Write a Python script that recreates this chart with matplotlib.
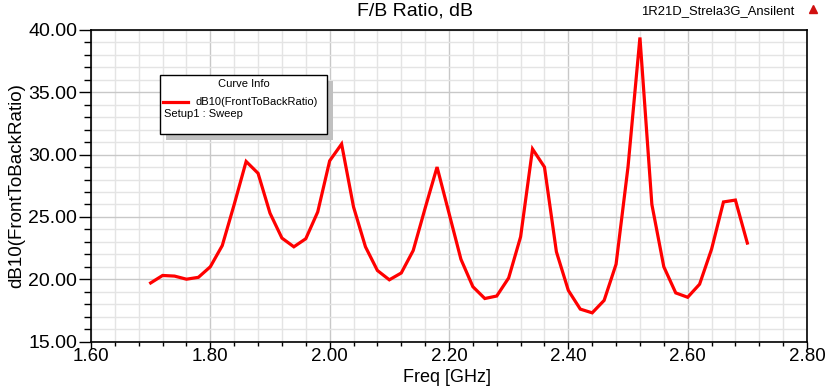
import matplotlib
matplotlib.use("Agg")
import matplotlib.pyplot as plt
from matplotlib.ticker import MultipleLocator, FormatStrFormatter
from matplotlib.patches import Rectangle
from matplotlib.lines import Line2D

plt.rcParams['font.family'] = ['Liberation Sans', 'DejaVu Sans']

freq_ghz = [1.70, 1.72, 1.74, 1.76, 1.78, 1.80, 1.82, 1.84, 1.86, 1.88,
            1.90, 1.92, 1.94, 1.96, 1.98, 2.00, 2.02, 2.04, 2.06, 2.08,
            2.10, 2.12, 2.14, 2.16, 2.18, 2.20, 2.22, 2.24, 2.26, 2.28,
            2.30, 2.32, 2.34, 2.36, 2.38, 2.40, 2.42, 2.44, 2.46, 2.48,
            2.50, 2.52, 2.54, 2.56, 2.58, 2.60, 2.62, 2.64, 2.66, 2.68,
            2.70]
fb_ratio_db = [19.7, 20.3, 20.25, 20.0, 20.15, 21.0, 22.7, 26.0, 29.45, 28.5,
               25.3, 23.3, 22.6, 23.25, 25.4, 29.5, 30.85, 25.8, 22.6, 20.7,
               19.95, 20.5, 22.3, 25.7, 29.0, 25.3, 21.6, 19.4, 18.45, 18.65,
               20.1, 23.4, 30.45, 29.0, 22.2, 19.1, 17.6, 17.3, 18.3, 21.2,
               29.0, 39.4, 26.0, 21.0, 18.9, 18.55, 19.6, 22.4, 26.2, 26.35,
               22.9]

title = "F/B Ratio, dB"
project = "1R21D_Strela3G_Ansilent"
x_label = "Freq [GHz]"
y_label = "dB10(FrontToBackRatio)"
legend_title = "Curve Info"
legend_entry = "dB10(FrontToBackRatio)"
legend_setup = "Setup1 : Sweep"

W, H = 831, 390
fig = plt.figure(figsize=(W / 100, H / 100), dpi=100)
ax = fig.add_axes([91 / W, 1 - 341.5 / H, (807 - 91) / W, (341.5 - 30) / H])

ax.plot(freq_ghz, fb_ratio_db, color='#ff0000', lw=2.3, solid_joinstyle='miter', zorder=3)

ax.set_xlim(1.60, 2.80)
ax.set_ylim(15.0, 40.0)
ax.xaxis.set_major_locator(MultipleLocator(0.2))
ax.xaxis.set_minor_locator(MultipleLocator(0.04))
ax.yaxis.set_major_locator(MultipleLocator(5))
ax.yaxis.set_minor_locator(MultipleLocator(1))
ax.xaxis.set_major_formatter(FormatStrFormatter('%.2f'))
ax.yaxis.set_major_formatter(FormatStrFormatter('%.2f'))

ax.grid(which='major', color='#c8c8c8', lw=1.0, zorder=0)
ax.grid(which='minor', color='#e4e4e4', lw=1.0, zorder=0)
ax.set_axisbelow(True)

ax.tick_params(axis='y', which='major', direction='out', length=9, width=1,
               labelsize=14, pad=1)
ax.tick_params(axis='y', which='minor', direction='out', length=5, width=1)
ax.tick_params(axis='x', which='major', direction='out', length=5, width=1,
               labelsize=13.5, pad=0)
ax.tick_params(axis='x', which='minor', direction='out', length=3, width=1)
for s in ax.spines.values():
    s.set_color('black')
    s.set_linewidth(1.2)

ax.set_ylabel(y_label, fontsize=13.5, labelpad=2)
fig.text(447 / W, 1 - 377 / H, x_label, ha='center', va='center', fontsize=13)

fig.text(415 / W, 1 - 11 / H, title, ha='center', va='center', fontsize=14)
fig.text(718 / W, 1 - 11 / H, project, ha='center', va='center', fontsize=9.4)
fig.add_artist(Line2D([813 / W], [1 - 9 / H], marker='^', color='#d01010',
                      markersize=6, transform=fig.transFigure))

# Legend box (Curve Info)
lx0, ly0, lx1, ly1 = 160, 75, 327, 134
fig.add_artist(Rectangle(((lx0 + 6) / W, 1 - (ly1 + 6) / H), (lx1 - lx0) / W,
                         (ly1 - ly0) / H, transform=fig.transFigure,
                         facecolor='#c0c0c0', edgecolor='none', zorder=5))
fig.add_artist(Rectangle((lx0 / W, 1 - ly1 / H), (lx1 - lx0) / W, (ly1 - ly0) / H,
                         transform=fig.transFigure, facecolor='white',
                         edgecolor='black', lw=1, zorder=6))
fig.text((lx0 + lx1) / 2 / W, 1 - 84 / H, legend_title, ha='center', va='center',
         fontsize=8, zorder=7)
fig.add_artist(Line2D([163 / W, 188 / W], [1 - 102 / H, 1 - 102 / H], color='#ff0000',
                      lw=2.3, transform=fig.transFigure, zorder=7))
fig.text(196 / W, 1 - 102 / H, legend_entry, ha='left', va='center', fontsize=8, zorder=7)
fig.text(164 / W, 1 - 114 / H, legend_setup, ha='left', va='center', fontsize=8, zorder=7)

fig.savefig("out.png", dpi=100)
